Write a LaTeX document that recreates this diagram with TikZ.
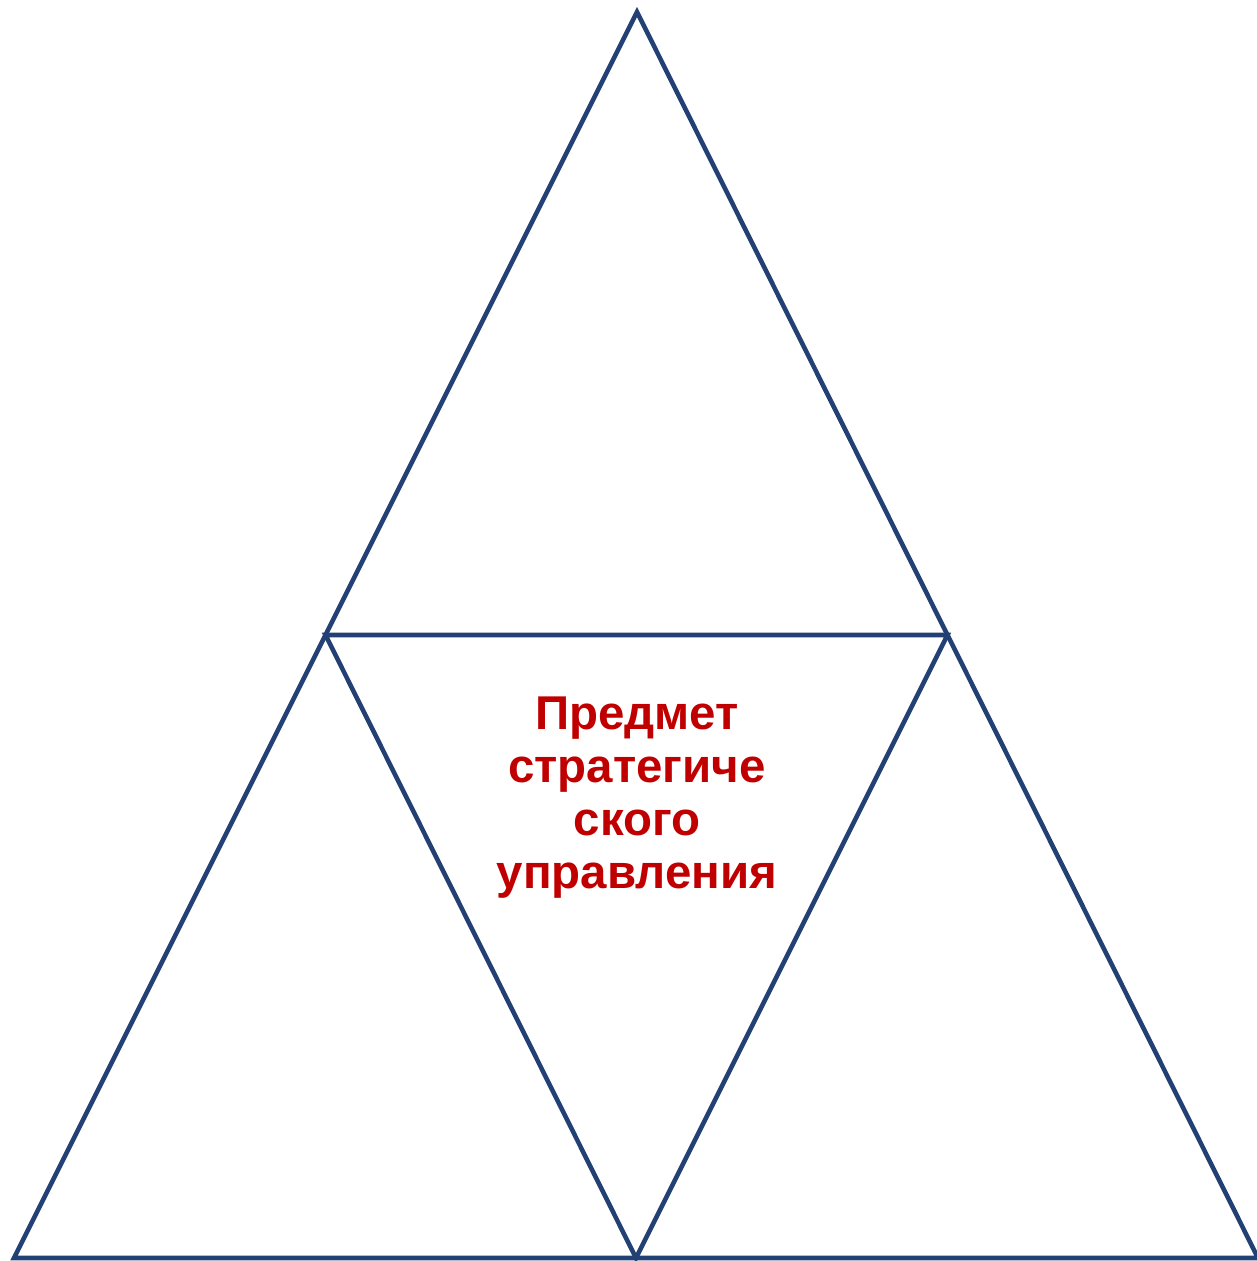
\documentclass[tikz,border=0pt]{standalone}
\usepackage{fontspec}
\setmainfont{Liberation Sans}
\usetikzlibrary{calc}
\definecolor{edgeblue}{RGB}{35,64,116}
\definecolor{titlered}{RGB}{192,0,0}
\begin{document}
\begin{tikzpicture}[x=0.02cm, y=-0.02cm]
            \useasboundingbox (0,0) rectangle (1257,1261);
            \coordinate (T) at (637,12); 
            \coordinate (L) at (14,1258); 
            \coordinate (R) at (1258,1258); 
            \coordinate (ML) at ($(T)!0.5!(L)$); % midpoints
            \coordinate (MR) at ($(T)!0.5!(R)$);
            \coordinate (MB) at ($(L)!0.5!(R)$);
            
            \draw[line width=2.6pt, edgeblue, line join=miter] (T) -- (L) -- (R) -- cycle;
            \draw[line width=2.6pt, edgeblue, line join=miter] (ML) -- (MR) -- (MB) -- cycle;
            
            \node[titlered, font=\bfseries\fontsize{27}{30.2}\selectfont, align=center] (subj) at (637,798) {Предмет\\стратегиче\\ского\\управления};
        \end{tikzpicture}
\end{document}
